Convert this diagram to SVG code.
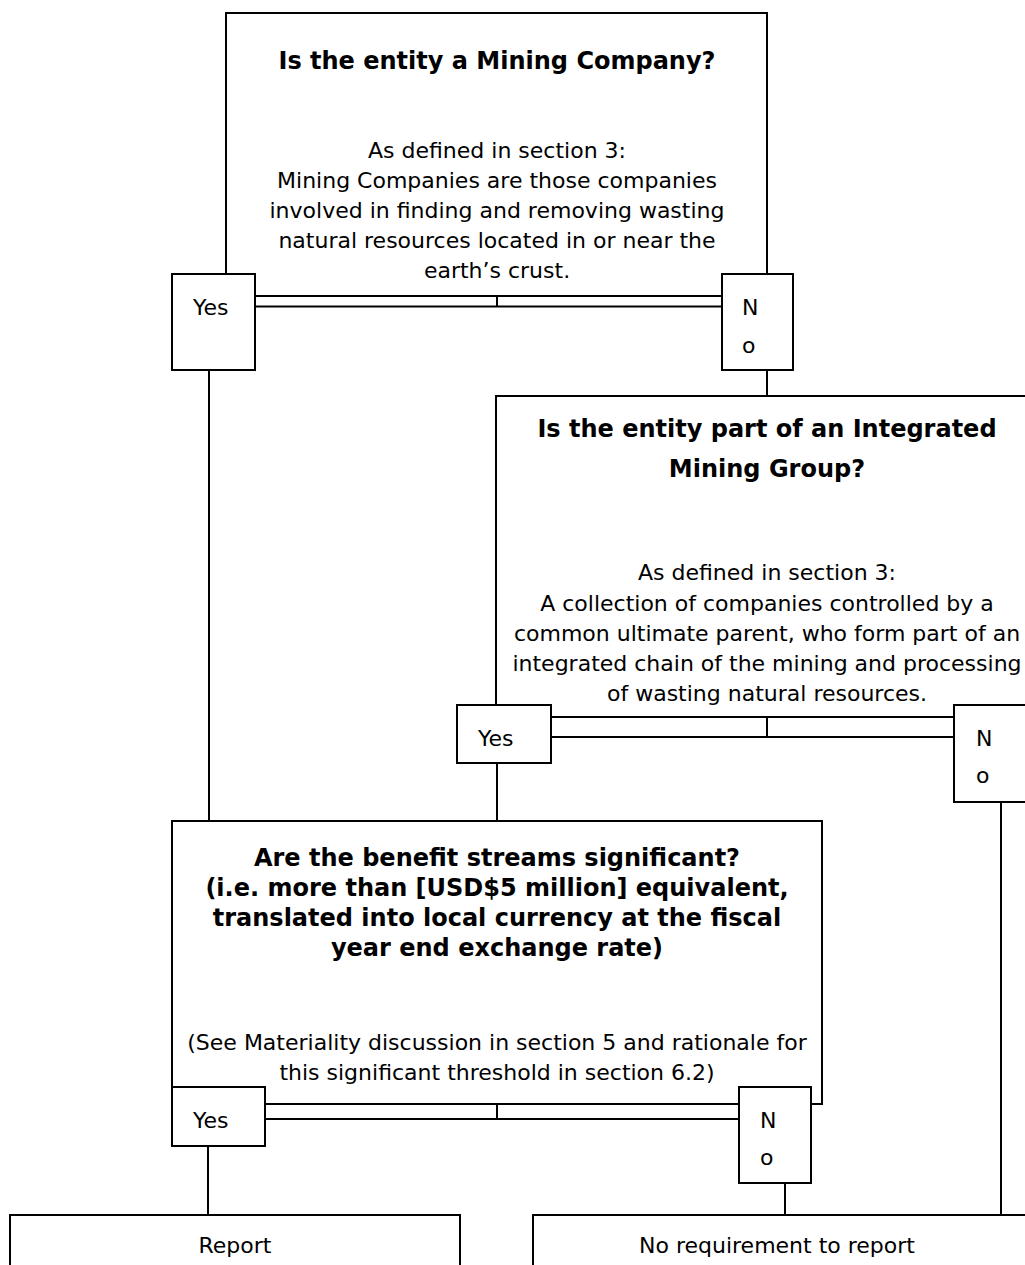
<svg xmlns="http://www.w3.org/2000/svg" width="1025" height="1265" viewBox="0 0 1025 1265">
<style>
.ln{fill:none;stroke:#000;stroke-width:2}
.bx{fill:#fff;stroke:#000;stroke-width:2}
text{font-family:"DejaVu Sans","Liberation Sans",sans-serif;font-size:22px;fill:#000}
.b{font-weight:bold;font-size:24px}
.c{text-anchor:middle}
</style>
<rect width="1025" height="1265" fill="#fff"/>
<g id="connectors">
<line class="ln" x1="209" y1="370" x2="209" y2="821"/>
<line class="ln" x1="767" y1="370" x2="767" y2="396"/>
<line class="ln" x1="497" y1="763" x2="497" y2="821"/>
<line class="ln" x1="1001" y1="802" x2="1001" y2="1215"/>
<line class="ln" x1="208" y1="1146" x2="208" y2="1215"/>
<line class="ln" x1="785" y1="1183" x2="785" y2="1215"/>
<path class="ln" d="M255,296H722M255,306.5H722M497,296V306.5"/>
<path class="ln" d="M551,717H954M551,737H954M767,717V737"/>
<path class="ln" d="M265,1104H739M265,1119H739M497,1104V1119"/>
</g>
<g id="q1">
<path class="ln" d="M226,274V13H767V274"/>
<text class="b c" x="497" y="69">Is the entity a Mining Company?</text>
<text class="c" x="497" y="158">As defined in section 3:</text>
<text class="c" x="497" y="188">Mining Companies are those companies</text>
<text class="c" x="497" y="218">involved in finding and removing wasting</text>
<text class="c" x="497" y="248">natural resources located in or near the</text>
<text class="c" x="497" y="278">earth’s crust.</text>
</g>
<g id="q1-yes"><rect class="bx" x="172" y="274" width="83" height="96"/><text x="193" y="315">Yes</text></g>
<g id="q1-no"><rect class="bx" x="722" y="274" width="71" height="96"/><text x="742" y="315">N</text><text x="742" y="353">o</text></g>
<g id="q2">
<path class="ln" d="M496,705V396H1040"/>
<text class="b c" x="767" y="437">Is the entity part of an Integrated</text>
<text class="b c" x="767" y="477">Mining Group?</text>
<text class="c" x="767" y="580">As defined in section 3:</text>
<text class="c" x="767" y="611">A collection of companies controlled by a</text>
<text class="c" x="767" y="641">common ultimate parent, who form part of an</text>
<text class="c" x="767" y="671">integrated chain of the mining and processing</text>
<text class="c" x="767" y="701">of wasting natural resources.</text>
</g>
<g id="q2-yes"><rect class="bx" x="457" y="705" width="94" height="58"/><text x="478" y="746">Yes</text></g>
<g id="q2-no"><rect class="bx" x="954" y="705" width="80" height="97"/><text x="976" y="746">N</text><text x="976" y="783">o</text></g>
<g id="q3">
<path class="ln" d="M172,1087V821H822V1104H811"/>
<text class="b c" x="497" y="866">Are the benefit streams significant?</text>
<text class="b c" x="497" y="896">(i.e. more than [USD$5 million] equivalent,</text>
<text class="b c" x="497" y="926">translated into local currency at the fiscal</text>
<text class="b c" x="497" y="956">year end exchange rate)</text>
<text class="c" x="497" y="1050">(See Materiality discussion in section 5 and rationale for</text>
<text class="c" x="497" y="1080">this significant threshold in section 6.2)</text>
</g>
<g id="q3-yes"><rect class="bx" x="172" y="1087" width="93" height="59"/><text x="193" y="1128">Yes</text></g>
<g id="q3-no"><rect class="bx" x="739" y="1087" width="72" height="96"/><text x="760" y="1128">N</text><text x="760" y="1165">o</text></g>
<g id="report"><path class="ln" d="M10,1270V1215H460V1270"/><text class="c" x="235" y="1253">Report</text></g>
<g id="no-report"><path class="ln" d="M533,1270V1215H1040"/><text class="c" x="777" y="1253">No requirement to report</text></g>
</svg>
